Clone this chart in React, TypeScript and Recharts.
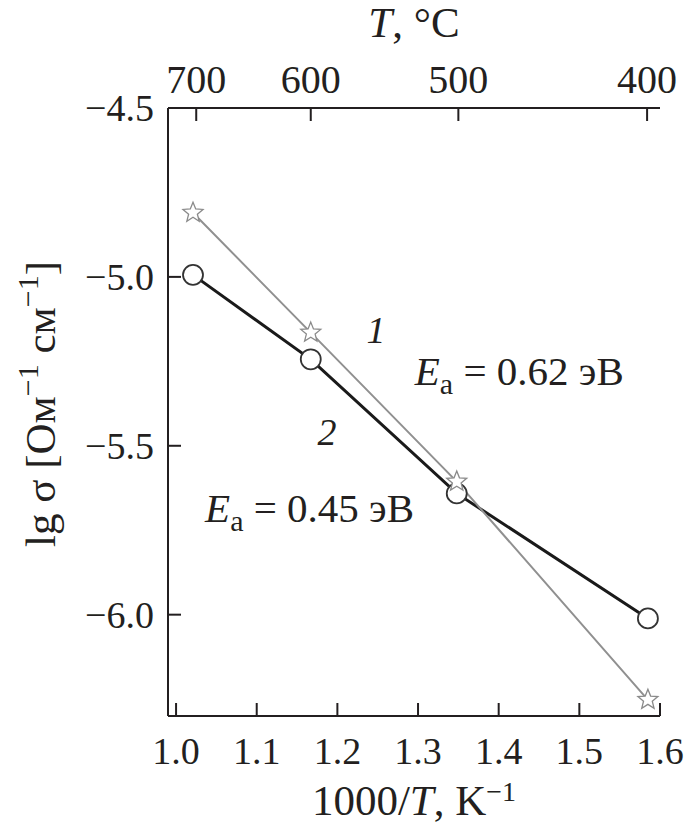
import { LineChart, Line, XAxis, YAxis, ReferenceDot } from 'recharts'

const xValues = [1.021, 1.167, 1.348, 1.585]
const curve1 = [-4.81, -5.165, -5.606, -6.252]
const curve2 = [-4.994, -5.244, -5.641, -6.011]
const xTicks = [1.0, 1.1, 1.2, 1.3, 1.4, 1.5, 1.6]
const yTicks = [-4.5, -5.0, -5.5, -6.0]
const topTickPos = [1.025, 1.167, 1.35, 1.584]
const topTickLabels = ['700', '600', '500', '400']

const data = xValues.map((x, i) => ({ x, c1: curve1[i], c2: curve2[i] }))

const FONT = "'Liberation Serif', 'DejaVu Serif', serif"
const INK = '#231f20'
const TICK = 13
const tickTxt = { fontFamily: FONT, fontSize: 38, fill: INK }
const bigTxt = { fontFamily: FONT, fontSize: 43, fill: INK }

function BottomTick({ x, y, payload }: any) {
  return (
    <g>
      <line x1={x} y1={y} x2={x} y2={y - TICK} stroke={INK} strokeWidth={2} />
      <text x={x} y={y + 48} textAnchor="middle" style={tickTxt}>
        {payload.value.toFixed(1)}
      </text>
    </g>
  )
}

function TopTick({ x, y, index }: any) {
  return (
    <g>
      <line x1={x} y1={y} x2={x} y2={y + TICK} stroke={INK} strokeWidth={2} />
      <text x={x} y={y - 15} textAnchor="middle" style={{ ...tickTxt, fontSize: 40 }}>
        {topTickLabels[index]}
      </text>
    </g>
  )
}

function LeftTick({ x, y, payload }: any) {
  return (
    <g>
      <line x1={x} y1={y} x2={x + TICK} y2={y} stroke={INK} strokeWidth={2} />
      <text x={x - 14} y={y + 13} textAnchor="end" style={tickTxt}>
        {'\u2212' + Math.abs(payload.value).toFixed(1)}
      </text>
    </g>
  )
}

function StarDot({ cx, cy }: any) {
  const pts: string[] = []
  for (let k = 0; k < 10; k++) {
    const r = k % 2 === 0 ? 10.5 : 4.6
    const a = -Math.PI / 2 + (k * Math.PI) / 5
    pts.push(`${cx + r * Math.cos(a)},${cy + r * Math.sin(a)}`)
  }
  return <polygon points={pts.join(' ')} fill="#fff" stroke="#8a8a8a" strokeWidth={1.3} />
}

function CircleDot({ cx, cy }: any) {
  return <circle cx={cx} cy={cy} r={10} fill="#fff" stroke="#333" strokeWidth={1.8} />
}

function Ea({ cx, cy, value }: any) {
  return (
    <text x={cx} y={cy} style={{ ...bigTxt, fontSize: 41 }}>
      <tspan fontStyle="italic">E</tspan>
      <tspan style={{ fontSize: 30 }} dy={9}>a</tspan>
      <tspan dy={-9}>{` = ${value} эВ`}</tspan>
    </text>
  )
}

function Num({ cx, cy, value }: any) {
  return (
    <text x={cx} y={cy} textAnchor="middle" style={{ ...bigTxt, fontSize: 38, fontStyle: 'italic' }}>
      {value}
    </text>
  )
}

export default function App() {
  return (
    <div style={{ position: 'absolute', left: 0, top: 0, background: '#fff' }}>
      <LineChart width={685} height={826} data={data} margin={{ top: 0, right: 25, bottom: 0, left: 0 }}>
        <XAxis
          xAxisId="bottom"
          type="number"
          dataKey="x"
          domain={[0.99, 1.6]}
          ticks={xTicks}
          interval={0}
          allowDataOverflow
          height={110}
          tickSize={0}
          tickMargin={0}
          tickLine={false}
          axisLine={{ stroke: INK, strokeWidth: 2 }}
          tick={(p: any) => <BottomTick {...p} />}
          label={{
            content: () => (
              <text x={414} y={815} textAnchor="middle" style={bigTxt}>
                1000/<tspan fontStyle="italic">T</tspan>, K
                <tspan style={{ fontSize: 28 }} dy={-14}>−1</tspan>
              </text>
            ),
          }}
        />
        <XAxis
          xAxisId="top"
          orientation="top"
          type="number"
          dataKey="x"
          domain={[0.99, 1.6]}
          ticks={topTickPos}
          interval={0}
          allowDataOverflow
          height={108}
          tickSize={0}
          tickMargin={0}
          tickLine={false}
          axisLine={{ stroke: INK, strokeWidth: 2 }}
          tick={(p: any) => <TopTick {...p} />}
          label={{
            content: () => (
              <text x={414} y={37} textAnchor="middle" style={bigTxt}>
                <tspan fontStyle="italic">T</tspan>, °C
              </text>
            ),
          }}
        />
        <YAxis
          type="number"
          domain={[-6.3, -4.5]}
          ticks={yTicks}
          interval={0}
          allowDataOverflow
          width={168}
          tickSize={0}
          tickMargin={0}
          tickLine={false}
          axisLine={{ stroke: INK, strokeWidth: 2 }}
          tick={(p: any) => <LeftTick {...p} />}
          label={{
            content: () => (
              <text x={55} y={404} transform="rotate(-90 55 404)" textAnchor="middle" style={bigTxt}>
                lg σ [Ом<tspan style={{ fontSize: 30 }} dy={-17}>−1</tspan>
                <tspan dy={17}> см</tspan>
                <tspan style={{ fontSize: 30 }} dy={-17}>−1</tspan>
                <tspan dy={17}>]</tspan>
              </text>
            ),
          }}
        />
        <Line
          xAxisId="bottom"
          type="linear"
          dataKey="c2"
          stroke="#1a1a1a"
          strokeWidth={3}
          dot={(p: any) => <CircleDot key={`c${p.index}`} {...p} />}
          isAnimationActive={false}
        />
        <Line
          xAxisId="bottom"
          type="linear"
          dataKey="c1"
          stroke="#909090"
          strokeWidth={2}
          dot={(p: any) => <StarDot key={`s${p.index}`} {...p} />}
          isAnimationActive={false}
        />
        <ReferenceDot xAxisId="bottom" x={1.248} y={-5.196} r={0} shape={(p: any) => <Num {...p} value="1" />} />
        <ReferenceDot xAxisId="bottom" x={1.187} y={-5.498} r={0} shape={(p: any) => <Num {...p} value="2" />} />
        <ReferenceDot xAxisId="bottom" x={1.296} y={-5.32} r={0} shape={(p: any) => <Ea {...p} value="0.62" />} />
        <ReferenceDot xAxisId="bottom" x={1.036} y={-5.726} r={0} shape={(p: any) => <Ea {...p} value="0.45" />} />
      </LineChart>
    </div>
  )
}
